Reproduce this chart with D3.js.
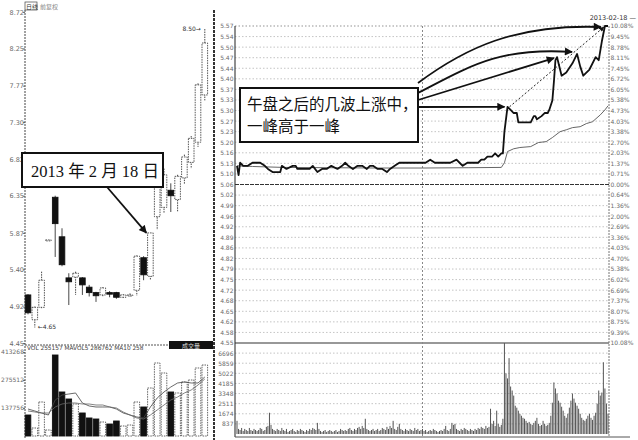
<!DOCTYPE html>
<html lang="zh-CN"><head><meta charset="utf-8">
<script src="https://cdn.jsdelivr.net/npm/d3@7/dist/d3.min.js"></script>
<style>body{margin:0;background:#fff}svg{display:block}</style>
</head><body><svg id="c" width="638" height="440"></svg>
<script>
// ---------- daily K-line (left panel) ----------
const dayOpen  = [5.07,4.75,4.91,5.78,6.33,5.82,5.29,5.30,5.29,5.17,5.10,5.07,5.10,5.10,5.04,5.06,5.13,5.55,5.31,6.08,6.20,6.42,6.30,6.58,6.78,7.04,7.65];
const dayHigh  = [5.08,4.92,5.37,5.78,6.35,5.93,5.35,5.37,5.30,5.20,5.11,5.17,5.12,5.11,5.08,5.09,5.58,5.57,5.87,6.46,6.70,6.51,6.62,6.88,7.12,7.80,8.50];
const dayLow   = [4.82,4.65,4.89,5.78,5.56,5.44,4.94,5.07,5.07,5.05,4.98,5.05,5.04,5.02,5.03,5.05,5.06,5.26,5.26,5.91,6.12,6.14,6.14,6.50,6.70,6.98,7.58];
const dayClose = [4.84,4.91,5.26,5.78,5.99,5.46,5.24,5.35,5.20,5.10,5.06,5.16,5.08,5.04,5.07,5.07,5.57,5.33,5.87,6.46,6.62,6.35,6.60,6.85,7.09,7.78,8.32];
const dayVol   = [103300,39400,167300,29500,398500,216500,182000,157400,113200,88600,83600,68900,59000,73800,49200,54100,167300,142700,236200,359200,310000,216500,211600,265700,275500,334600,349300];
const dayMa5   = [132800,123000,113200,103300,177100,201700,206600,211600,162400,147600,142700,142700,142700,132800,113200,103300,93500,88600,142700,187000,216500,241100,260800,265700,260800,260800,290300];
const dayMa10  = [123000,118100,113200,113200,142700,157400,162400,162400,157400,157400,152500,152500,142700,137800,118100,103300,88600,83600,103300,127900,152500,177100,191900,211600,226300,250900,280400];
const dayPriceTicks = ["4.45","4.92","5.40","5.87","6.35","6.82","7.30","7.77","8.25","8.72"];
const dayVolTicks = ["137756","275512","413268"];
const markedDay = 18; // 2013-02-18

// ---------- intraday (right panel) ----------
const prevClose = 5.06;
const tickMinutes = [0,1,2,4,7,10,13,15,18,20,23,25,28,29,32,36,38,39,43,47,49,52,55,58,61,65,68,70,72,75,78,81,84,86,88,91,94,97,99,102,105,107,112,116,120,122,125,128,131,135,138,142,144,146,149,153,156,158,160,162,165,167,169,171,172,173,175,177,179,181,182,183,188,190,192,193,194,197,199,201,202,204,205,206,207,210,213,217,220,222,224,226,228,232,234,236,238,240];
const tickPrice   = [5.12,5.09,5.13,5.12,5.12,5.13,5.13,5.13,5.12,5.11,5.10,5.10,5.10,5.12,5.11,5.12,5.12,5.11,5.11,5.11,5.12,5.10,5.11,5.11,5.12,5.11,5.12,5.13,5.12,5.11,5.12,5.12,5.11,5.12,5.12,5.11,5.11,5.10,5.11,5.12,5.13,5.13,5.13,5.13,5.13,5.13,5.14,5.13,5.13,5.13,5.13,5.14,5.13,5.12,5.13,5.13,5.13,5.14,5.14,5.15,5.15,5.16,5.15,5.16,5.16,5.23,5.31,5.30,5.29,5.29,5.26,5.26,5.26,5.26,5.28,5.28,5.27,5.28,5.29,5.29,5.30,5.33,5.39,5.46,5.47,5.41,5.42,5.45,5.48,5.44,5.41,5.42,5.43,5.47,5.46,5.52,5.57,5.57];
const avgMinutes  = [0,10,30,60,90,120,150,171,173,175,179,183,190,195,200,204,209,213,217,222,226,230,235,238,240];
const avgPrice    = [5.120,5.118,5.115,5.114,5.113,5.113,5.114,5.115,5.130,5.166,5.175,5.179,5.182,5.195,5.198,5.211,5.230,5.236,5.243,5.246,5.256,5.262,5.284,5.300,5.313];
const minuteVol = [
 1090,420,330,500,250,420,330,250,500,330, 250,420,330,250,330,500,420,250,330,590,
 670,1760,750,420,330,250,420,330,250,500, 330,250,420,170,250,330,420,250,170,330,
 250,420,330,250,170,330,250,420,330,500, 420,330,920,420,250,170,250,330,170,250,
 330,250,170,250,330,170,250,420,330,250, 330,250,420,500,330,250,420,330,500,590,
 420,670,500,1260,420,330,250,330,420,250, 330,420,250,330,500,420,330,590,420,670,
 500,1090,420,330,590,840,420,330,250,420, 330,250,420,330,250,500,330,420,250,330,
 420,250,330,170,250,330,250,420,330,250, 170,250,330,250,420,670,330,250,420,920,
 750,840,420,330,250,420,330,500,420,330, 250,420,330,250,420,330,500,420,590,500,
 420,670,500,590,2090,840,1090,670,1930,840, 590,750,1260,7530,5020,4600,6280,3930,3600,3180,
 2340,2180,1930,1670,1510,1340,1260,1090,920,1000, 840,750,920,1090,1340,840,670,750,1090,840,
 670,750,920,1510,2590,4270,3770,3350,2760,2590, 2260,1930,1510,1340,1670,2180,2760,3350,2930,2590,
 2340,2090,1670,1340,1170,1090,1260,1510,1670,1340, 1170,1510,1760,2510,3600,3180,3430,5940,3770,2510,
 1670];
const upPriceLabels   = ["5.06","5.10","5.13","5.16","5.20","5.23","5.27","5.30","5.33","5.37","5.40","5.44","5.47","5.50","5.54","5.57"];
const downPriceLabels = ["5.06","5.02","4.99","4.96","4.92","4.89","4.86","4.82","4.79","4.75","4.72","4.68","4.65","4.62","4.58","4.55"];
const upPctLabels     = ["0.00%","0.71%","1.37%","2.03%","2.70%","3.38%","4.03%","4.73%","5.38%","6.05%","6.72%","7.45%","8.11%","8.78%","9.45%","10.08%"];
const downPctLabels   = ["0.00%","0.64%","1.36%","2.00%","2.69%","3.36%","4.03%","4.70%","5.38%","6.02%","6.69%","7.37%","8.07%","8.75%","9.39%","10.08%"];
const volLabels = ["837","1674","2511","3348","4185","5022","5859","6696"];
const wavePeaks = [175, 207, 220, 238];

// ---------- drawing ----------
const svg = d3.select("#c");
svg.append("rect").attr("width",638).attr("height",440).attr("fill","#fff");
const defs = svg.append("defs");
function marker(id, w, h){
  defs.append("marker").attr("id",id).attr("viewBox","0 0 10 10").attr("refX",9).attr("refY",5)
    .attr("markerWidth",w).attr("markerHeight",h).attr("markerUnits","userSpaceOnUse").attr("orient","auto")
    .append("path").attr("d","M0,0L10,5L0,10Z").attr("fill","#111");
}
marker("ah",10,8); marker("ahs",6,5);
const lblFont = "DejaVu Sans, sans-serif";
const cjk = "'Noto Sans CJK JP', 'Noto Sans CJK SC', sans-serif";
const ink = "#222", grid = "#aaa", lbl = "#6a6a6a";

// ===== Left daily panel =====
const xD = d3.scaleLinear().domain([0, dayOpen.length-1]).range([28, 204.8]);
const yD = d3.scaleLinear().domain([+dayPriceTicks[0], +dayPriceTicks[dayPriceTicks.length-1]]).range([343, 12]);
const yDV = d3.scaleLinear().domain([0, +dayVolTicks[2]]).range([436, 352]);

const gDAx = svg.append("g").attr("transform","translate(25,0)")
  .call(d3.axisLeft(yD).tickValues(dayPriceTicks.map(Number)).tickFormat(d=>dayPriceTicks.find(t=>+t===d)).tickSize(2));
gDAx.select(".domain").remove();
gDAx.selectAll("text").attr("font-size",6.5).attr("fill",lbl).attr("font-family",lblFont).attr("x",-1);
gDAx.selectAll("line").attr("stroke","#777");
const gDVAx = svg.append("g").attr("transform","translate(25,0)")
  .call(d3.axisLeft(yDV).tickValues(dayVolTicks.map(Number)).tickFormat(d=>String(d)).tickSize(2));
gDVAx.select(".domain").remove();
gDVAx.selectAll("text").attr("font-size",6).attr("fill",lbl).attr("font-family",lblFont).attr("x",-1);
gDVAx.selectAll("line").attr("stroke","#777");

svg.append("line").attr("x1",25).attr("x2",25).attr("y1",10).attr("y2",438).attr("stroke","#444").attr("stroke-dasharray","2,1");
svg.append("line").attr("x1",25).attr("x2",213).attr("y1",345).attr("y2",345).attr("stroke","#555").attr("stroke-dasharray","2,1");
svg.append("line").attr("x1",214).attr("x2",214).attr("y1",10).attr("y2",440).attr("stroke","#333").attr("stroke-width",2).attr("stroke-dasharray","3,1");

// header
svg.append("rect").attr("x",25).attr("y",2).attr("width",12).attr("height",8).attr("fill","none").attr("stroke","#444").attr("stroke-width",0.7);
svg.append("text").attr("x",26).attr("y",8.6).attr("font-size",6).attr("font-family",cjk).attr("fill","#333").text("日线");
svg.append("text").attr("x",40).attr("y",8.6).attr("font-size",6).attr("font-family",cjk).attr("fill","#888").text("前复权");

// candles
const days = d3.range(dayOpen.length);
const cw = 5.6;
const cg = svg.append("g");
cg.selectAll("line.wick").data(days).join("line").attr("class","wick")
  .attr("x1",i=>xD(i)).attr("x2",i=>xD(i)).attr("y1",i=>yD(dayHigh[i])).attr("y2",i=>yD(dayLow[i]))
  .attr("stroke","#333").attr("stroke-width",0.9).attr("stroke-dasharray",i=>dayClose[i]>=dayOpen[i]?"1.5,1":null);
cg.selectAll("rect.body").data(days).join("rect").attr("class","body")
  .attr("x",i=>xD(i)-cw/2).attr("width",cw)
  .attr("y",i=>yD(Math.max(dayOpen[i],dayClose[i])))
  .attr("height",i=>Math.max(1,Math.abs(yD(dayOpen[i])-yD(dayClose[i]))))
  .attr("fill",i=>dayClose[i]<dayOpen[i]?"#111":"#fff")
  .attr("stroke",i=>dayClose[i]<dayOpen[i]?"#111":"#444")
  .attr("stroke-width",0.9)
  .attr("stroke-dasharray",i=>dayClose[i]<dayOpen[i]?null:"1.5,1");

// high / low labels
const iHi = d3.maxIndex(dayHigh), iLo = d3.minIndex(dayLow);
svg.append("text").attr("x",xD(iHi)-4).attr("y",yD(dayHigh[iHi])+2).attr("text-anchor","end")
  .attr("font-size",6).attr("font-family",lblFont).attr("fill","#333").text(dayHigh[iHi].toFixed(2)+"\u2192");
svg.append("text").attr("x",xD(iLo)+3).attr("y",yD(dayLow[iLo])+2)
  .attr("font-size",6).attr("font-family",lblFont).attr("fill","#333").text("\u2190"+dayLow[iLo].toFixed(2));

// volume bars
cg.selectAll("rect.vol").data(days).join("rect").attr("class","vol")
  .attr("x",i=>xD(i)-cw/2).attr("width",cw)
  .attr("y",i=>yDV(dayVol[i])).attr("height",i=>yDV(0)-yDV(dayVol[i]))
  .attr("fill",i=>dayClose[i]<dayOpen[i]?"#111":"#fff")
  .attr("stroke",i=>dayClose[i]<dayOpen[i]?"#111":"#555")
  .attr("stroke-width",0.9)
  .attr("stroke-dasharray",i=>dayClose[i]<dayOpen[i]?null:"1.5,1");
const maLine = d3.line().x((d,i)=>xD(i)).y(d=>yDV(d));
svg.append("path").attr("d",maLine(dayMa5)).attr("fill","none").attr("stroke","#444").attr("stroke-width",0.8);
svg.append("path").attr("d",maLine(dayMa10)).attr("fill","none").attr("stroke","#666").attr("stroke-width",0.8);
svg.append("text").attr("x",27).attr("y",350).attr("font-size",5.8).attr("font-family",lblFont).attr("fill","#444")
  .text("VOL 255157  MAVOL5 286762  MA10 258");
svg.append("rect").attr("x",169).attr("y",341).attr("width",44).attr("height",8).attr("fill","#111");
svg.append("text").attr("x",191).attr("y",347.6).attr("text-anchor","middle").attr("font-size",6).attr("font-family",cjk).attr("fill","#ddd").text("成交量");

// ===== Right intraday panel =====
const half = 0.51;
const xI = d3.scaleLinear().domain([0,240]).range([237,608]);
const yI = d3.scaleLinear().domain([prevClose-half, prevClose+half]).range([343,26]);
const yIV = d3.scaleLinear().domain([0, 7533]).range([434,343]);
const step = half/15;
const priceTicks = d3.range(-15,16).map(k=>({k, v: prevClose + k*step}));

const gg = svg.append("g");
gg.selectAll("line.h").data(priceTicks).join("line").attr("class","h")
  .attr("x1",235).attr("x2",609).attr("y1",d=>yI(d.v)).attr("y2",d=>yI(d.v))
  .attr("stroke",d=>d.k===0||d.k===-15?"#333":(d.k===15?"#666":grid))
  .attr("stroke-width",d=>d.k===0||d.k===-15?1.1:0.7)
  .attr("stroke-dasharray",d=>d.k===-15?null:(d.k===0?"4,1":"1.5,2"));
const volTickVals = volLabels.map(Number);
gg.selectAll("line.vh").data(volTickVals).join("line").attr("class","vh")
  .attr("x1",235).attr("x2",609).attr("y1",d=>yIV(d)).attr("y2",d=>yIV(d))
  .attr("stroke",grid).attr("stroke-width",0.7).attr("stroke-dasharray","1.5,2");
svg.append("line").attr("x1",xI(120)).attr("x2",xI(120)).attr("y1",26).attr("y2",437).attr("stroke","#888").attr("stroke-dasharray","2,2");
svg.append("line").attr("x1",235).attr("x2",235).attr("y1",26).attr("y2",437).attr("stroke","#333").attr("stroke-width",1.1);
svg.append("line").attr("x1",609).attr("x2",609).attr("y1",26).attr("y2",437).attr("stroke","#777").attr("stroke-dasharray","2,1");
svg.append("line").attr("x1",235).attr("x2",630).attr("y1",437).attr("y2",437).attr("stroke","#555");

// axis labels
const gL = svg.append("g").attr("transform","translate(235,0)")
  .call(d3.axisLeft(yI).tickValues(priceTicks.map(d=>d.v)).tickSize(0)
    .tickFormat((d,i)=>{const k=priceTicks[i].k; return k>=0?upPriceLabels[k]:downPriceLabels[-k];}));
gL.select(".domain").remove();
gL.selectAll("text").attr("font-size",6).attr("fill",lbl).attr("font-family",lblFont).attr("x",-1.5);
const gR = svg.append("g").attr("transform","translate(609,0)")
  .call(d3.axisRight(yI).tickValues(priceTicks.map(d=>d.v)).tickSize(0)
    .tickFormat((d,i)=>{const k=priceTicks[i].k; return k>=0?upPctLabels[k]:downPctLabels[-k];}));
gR.select(".domain").remove();
gR.selectAll("text").attr("font-size",6).attr("fill",lbl).attr("font-family",lblFont).attr("x",1.5);
const gV = svg.append("g").attr("transform","translate(235,0)")
  .call(d3.axisLeft(yIV).tickValues(volTickVals).tickSize(0).tickFormat((d,i)=>volLabels[i]));
gV.select(".domain").remove();
gV.selectAll("text").attr("font-size",6).attr("fill",lbl).attr("font-family",lblFont).attr("x",-1.5);
svg.append("text").attr("x",636).attr("y",20).attr("text-anchor","end").attr("font-size",6.5).attr("font-family",lblFont).attr("fill","#333").text("2013-02-18 \u2014");

// volume bars
svg.append("g").selectAll("line").data(minuteVol).join("line")
  .attr("x1",(d,i)=>xI(i)).attr("x2",(d,i)=>xI(i)).attr("y1",yIV(0)).attr("y2",d=>yIV(d))
  .attr("stroke","#555").attr("stroke-width",1);

// average & price lines
const avgLine = d3.line().x((d,i)=>xI(avgMinutes[i])).y(d=>yI(d));
svg.append("path").attr("d",avgLine(avgPrice)).attr("fill","none").attr("stroke","#555").attr("stroke-width",0.9);
const priceLine = d3.line().x((d,i)=>xI(tickMinutes[i])).y(d=>yI(d));
svg.append("path").attr("d",priceLine(tickPrice)).attr("fill","none").attr("stroke","#111").attr("stroke-width",1.8).attr("stroke-linejoin","round");

// ===== annotations =====
// box 1
svg.append("rect").attr("x",22).attr("y",153).attr("width",141).attr("height",34).attr("fill","#fff").attr("stroke","#111").attr("stroke-width",2);
svg.append("text").attr("x",31).attr("y",177).attr("font-size",16.5).attr("font-family","'Liberation Serif', 'Noto Sans CJK SC', serif").attr("fill","#111").text("2013 年 2 月 18 日");
svg.append("line").attr("x1",107).attr("y1",187).attr("x2",xD(markedDay)-4).attr("y2",yD(dayClose[markedDay]))
  .attr("stroke","#111").attr("stroke-width",1.8).attr("marker-end","url(#ah)");

// box 2
svg.append("rect").attr("x",240).attr("y",88).attr("width",178).attr("height",54).attr("fill","#fff").attr("stroke","#111").attr("stroke-width",2);
svg.append("text").attr("x",247).attr("y",110).attr("font-size",15.5).attr("font-family",cjk).attr("fill","#111").text("午盘之后的几波上涨中，");
svg.append("text").attr("x",247).attr("y",132).attr("font-size",15.5).attr("font-family",cjk).attr("fill","#111").text("一峰高于一峰");

const pk = wavePeaks.map(m=>({x:xI(m), y:yI(tickPrice[tickMinutes.indexOf(m)])}));
const arrows = [
  `M418,107 L${pk[0].x-3},${pk[0].y}`,
  `M418,100 L${pk[1].x-3},${pk[1].y+1}`,
  `M418,93 C470,66 500,47 ${pk[2].x-5},${pk[2].y-2}`,
  `M418,83 C465,48 515,24 ${pk[3].x-4},${pk[3].y+1}`
];
svg.append("g").selectAll("path").data(arrows).join("path").attr("d",d=>d)
  .attr("fill","none").attr("stroke","#111").attr("stroke-width",1.8).attr("marker-end","url(#ah)");
svg.append("line").attr("x1",pk[0].x+2).attr("y1",pk[0].y).attr("x2",pk[3].x-1).attr("y2",pk[3].y+1)
  .attr("stroke","#222").attr("stroke-width",1).attr("stroke-dasharray","2,2").attr("marker-end","url(#ahs)");
</script></body></html>
